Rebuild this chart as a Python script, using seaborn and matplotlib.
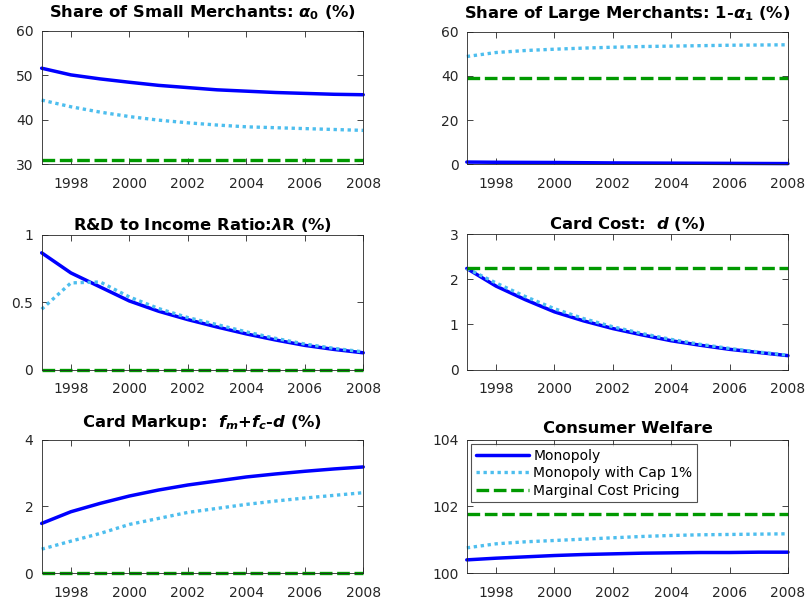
import numpy as np
import pandas as pd
import matplotlib
matplotlib.use('Agg')
import matplotlib.pyplot as plt
import seaborn as sns

# Years on the horizontal axis
years = [1997, 1998, 1999, 2000, 2001, 2002, 2003, 2004, 2005, 2006, 2007, 2008]

# Share of small merchants (%)
small_mono = [51.55, 50.05, 49.15, 48.4, 47.7, 47.2, 46.7, 46.4, 46.1, 45.9, 45.7, 45.6]
small_cap = [44.4, 42.9, 41.7, 40.7, 39.9, 39.3, 38.8, 38.4, 38.2, 38.0, 37.8, 37.6]
small_mc = [31.0, 31.0, 31.0, 31.0, 31.0, 31.0, 31.0, 31.0, 31.0, 31.0, 31.0, 31.0]

# Share of large merchants (%)
large_mono = [1.0, 0.9, 0.85, 0.8, 0.7, 0.6, 0.55, 0.5, 0.45, 0.4, 0.35, 0.3]
large_cap = [48.8, 50.6, 51.5, 52.1, 52.6, 53.0, 53.3, 53.5, 53.7, 53.9, 54.0, 54.1]
large_mc = [39.0, 39.0, 39.0, 39.0, 39.0, 39.0, 39.0, 39.0, 39.0, 39.0, 39.0, 39.0]

# R&D to income ratio (%)
rd_mono = [0.866, 0.717, 0.613, 0.509, 0.433, 0.371, 0.316, 0.265, 0.22, 0.18, 0.15, 0.125]
rd_cap = [0.448, 0.643, 0.65, 0.539, 0.453, 0.386, 0.334, 0.28, 0.232, 0.19, 0.158, 0.132]
rd_mc = [0.0, 0.0, 0.0, 0.0, 0.0, 0.0, 0.0, 0.0, 0.0, 0.0, 0.0, 0.0]

# Card cost d (%)
cost_mono = [2.24, 1.85, 1.55, 1.28, 1.08, 0.91, 0.77, 0.64, 0.54, 0.45, 0.38, 0.31]
cost_cap = [2.24, 1.92, 1.62, 1.35, 1.13, 0.95, 0.80, 0.67, 0.56, 0.47, 0.39, 0.32]
cost_mc = [2.24, 2.24, 2.24, 2.24, 2.24, 2.24, 2.24, 2.24, 2.24, 2.24, 2.24, 2.24]

# Card markup (%)
markup_mono = [1.49, 1.84, 2.09, 2.31, 2.49, 2.64, 2.76, 2.88, 2.97, 3.05, 3.12, 3.18]
markup_cap = [0.72, 0.96, 1.19, 1.46, 1.64, 1.82, 1.94, 2.06, 2.16, 2.25, 2.33, 2.41]
markup_mc = [0.0, 0.0, 0.0, 0.0, 0.0, 0.0, 0.0, 0.0, 0.0, 0.0, 0.0, 0.0]

# Consumer welfare
welf_mono = [100.40, 100.45, 100.49, 100.53, 100.56, 100.58, 100.60, 100.61, 100.62, 100.62, 100.63, 100.63]
welf_cap = [100.76, 100.88, 100.94, 100.98, 101.02, 101.06, 101.10, 101.13, 101.15, 101.16, 101.17, 101.18]
welf_mc = [101.76, 101.76, 101.76, 101.76, 101.76, 101.76, 101.76, 101.76, 101.76, 101.76, 101.76, 101.76]

labels = ['Monopoly', 'Monopoly with Cap 1%', 'Marginal Cost Pricing']
tick_years = [1998, 2000, 2002, 2004, 2006, 2008]
tick_labels = ['1998', '2000', '2002', '2004', '2006', '2008']

sns.set_style('ticks')
plt.rcParams['font.family'] = ['DejaVu Sans']
plt.rcParams['mathtext.fontset'] = 'custom'
plt.rcParams['mathtext.rm'] = 'DejaVu Sans:bold'
plt.rcParams['mathtext.it'] = 'DejaVu Sans:italic:bold'
plt.rcParams['mathtext.bf'] = 'DejaVu Sans:bold'
plt.rcParams['xtick.direction'] = 'in'
plt.rcParams['ytick.direction'] = 'in'
plt.rcParams['xtick.top'] = True
plt.rcParams['ytick.right'] = True

# title, series, y ticks, title pad (points)
panels = [
    ('Share of Small Merchants: $\\alpha_0$ (%)', small_mono, small_cap, small_mc, [30, 40, 50, 60], 9.5),
    ('Share of Large Merchants: 1-$\\alpha_1$ (%)', large_mono, large_cap, large_mc, [0, 20, 40, 60], 10),
    ('R&D to Income Ratio:$\\lambda$R (%)', rd_mono, rd_cap, rd_mc, [0, 0.5, 1], 3.5),
    ('Card Cost:  $d\\ (\\%)$', cost_mono, cost_cap, cost_mc, [0, 1, 2, 3], 4),
    ('Card Markup:  $f_m{+}f_c$-$d\\ (\\%)$', markup_mono, markup_cap, markup_mc, [0, 2, 4], 9),
    ('Consumer Welfare', welf_mono, welf_cap, welf_mc, [100, 102, 104], 4.8),
]

# axes boxes in figure fractions [left, bottom, width, height]
boxes = [
    [0.0515, 0.7285, 0.3975, 0.221],
    [0.577, 0.7285, 0.397, 0.219],
    [0.0515, 0.389, 0.3975, 0.223],
    [0.577, 0.389, 0.397, 0.224],
    [0.0515, 0.0525, 0.3975, 0.221],
    [0.577, 0.0525, 0.397, 0.221],
]

fig = plt.figure(figsize=(8.09, 6.05), dpi=100)

for (title, mono, cap, mc, yt, tpad), box in zip(panels, boxes):
    ax = fig.add_axes(box)
    sns.lineplot(x=years, y=mono, color='#0000ff', linewidth=2.5, ax=ax, label=labels[0])
    sns.lineplot(x=years, y=cap, color='#4dbeee', linewidth=2.4, ax=ax, label=labels[1])
    sns.lineplot(x=years, y=mc, color='#009900', linewidth=2.4, ax=ax, label=labels[2])
    ax.lines[1].set_dashes([1, 1.1])
    ax.lines[2].set_dashes([3.8, 1.4])
    for ln in ax.lines:
        ln.set_clip_on(False)
    ax.set_xlim(1997, 2008)
    ax.set_ylim(yt[0], yt[-1])
    ax.set_yticks(yt)
    ax.set_yticklabels([f'{v:g}' for v in yt])
    ax.set_xticks(tick_years)
    ax.set_xticklabels(tick_labels)
    ax.tick_params(labelsize=10, colors='#262626', length=4, width=0.6)
    ax.tick_params(axis='x', pad=9)
    ax.tick_params(axis='y', pad=6)
    for s in ax.spines.values():
        s.set_color('#262626')
        s.set_linewidth(0.6)
    ax.set_title(title, fontsize=11.8, fontweight='bold', color='black', pad=tpad)
    ax.set_xlabel('')
    ax.set_ylabel('')
    if title == 'Consumer Welfare':
        leg = ax.legend(loc='upper left', fontsize=10, frameon=True, fancybox=False,
                        edgecolor='#262626', handlelength=3.8, handletextpad=0.35,
                        borderaxespad=0.3, labelspacing=0.25, borderpad=0.35)
        leg.get_frame().set_linewidth(0.8)
        for t in leg.get_texts():
            t.set_color('black')
    else:
        ax.get_legend().remove()

plt.savefig('out.png', dpi=100)
